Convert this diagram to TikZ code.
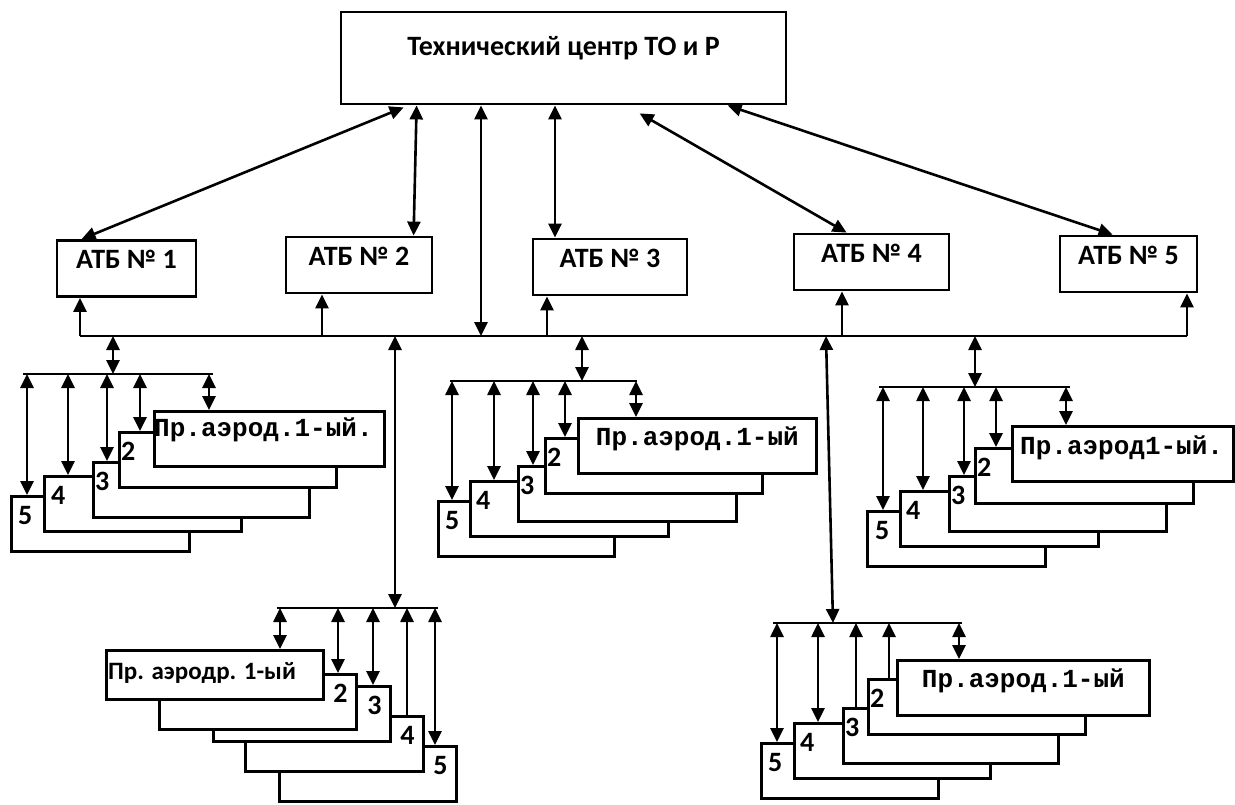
\documentclass[tikz,border=0pt]{standalone}
\usepackage{fontspec}
\setmainfont{Carlito}
\newfontfamily\monofam{Liberation Mono}
\usetikzlibrary{arrows.meta,calc}
\tikzset{
  vtop/.style={draw,line width=2.8pt,fill=white,font=\bfseries\fontsize{28}{32}\selectfont,text height=18pt,inner xsep=0pt},
  vatb/.style={vtop,inner ysep=10pt,text depth=18pt},
  vsheet/.style={draw,line width=2.8pt,fill=white,inner sep=0pt,anchor=north west,minimum height=55pt},
  vnum/.style={anchor=north west,inner sep=0pt,xshift=3pt,yshift=-11pt,font=\bfseries\fontsize{28}{32}\selectfont},
  vnumr/.style={anchor=north east,inner sep=0pt,xshift=-10pt,yshift=-11pt,font=\bfseries\fontsize{28}{32}\selectfont},
  vmono/.style={inner sep=0pt,font=\monofam\bfseries\fontsize{26}{30}\selectfont},
  vsans/.style={inner sep=0pt,font=\bfseries\fontsize{25}{29}\selectfont},
  varr/.style={-{Triangle[length=14pt,width=13pt]},line width=2.6pt},
  vdbl/.style={{Triangle[length=14pt,width=13pt]}-{Triangle[length=14pt,width=13pt]},line width=2.6pt},
  vline/.style={line width=2.6pt}
}
\begin{document}
\begin{tikzpicture}[x=1pt,y=-1pt]
  \useasboundingbox (0,0) rectangle (1235,804);
  % centre and the five bases
  \node[vtop,minimum width=445pt,inner ysep=25pt,text depth=24pt] (tc) at (563.5,58) {Технический центр ТО и Р};
  \node[vatb,minimum width=139pt] (a1) at (126.5,268.5) {АТБ № 1};
  \node[vatb,minimum width=146pt] (a2) at (359,265) {АТБ № 2};
  \node[vatb,minimum width=154pt] (a3) at (610,267) {АТБ № 3};
  \node[vatb,minimum width=155pt] (a4) at (871.5,262) {АТБ № 4};
  \node[vatb,minimum width=137pt] (a5) at (1128.5,264) {АТБ № 5};
  \draw[vdbl] ($(tc.south west)+(64,2)$) -- ($(a1.north west)+(26,0)$);
  \draw[vdbl] ($(tc.south west)+(77,0)$) -- ($(a2.north west)+(129,0)$);
  \draw[vdbl] (555,0 |- tc.south) -- (555,0 |- a3.north);
  \draw[vdbl] ($(tc.south west)+(300,8)$) -- ($(a4.north west)+(54,0)$);
  \draw[vdbl] ($(tc.south west)+(388,0)$) -- ($(a5.north west)+(54,0)$);
  % common line
  \coordinate (busL) at (80,336);
  \coordinate (busR) at (1187,336);
  \draw[vline] (busL) -- (busR);
  \draw[vdbl] (481,0 |- tc.south) -- (481,0 |- busL);
  \foreach \x/\n in {80/a1,322/a2,547/a3,842/a4,1187/a5}
    \draw[varr] (\x,0 |- busL) -- (\x,0 |- \n.south);
  \coordinate (bar1) at (23,374);
  \coordinate (bar2) at (450,381);
  \coordinate (bar3) at (879,387);
  \coordinate (bar4) at (277,608);
  \coordinate (bar5) at (773,623);
  \foreach \x/\g in {113/1,395/4,582/2,975/3}
    \draw[vdbl] (\x,0 |- busL) -- (\x,0 |- bar\g);
  \draw[vdbl] (826,0 |- busL) -- (833,0 |- bar5);
  % group 1
  \foreach \i/\x/\y/\w/\d in {5/10/495/178/5,4/43/475/197/5,3/92/461/216/0,2/118/431/217/0}
    \node[vsheet,minimum width=\w pt,label={[vnum,xshift=\d pt]north west:\i}] (g1s\i) at (\x,\y) {};
  \node[vsheet,minimum width=230pt,label={[vmono,anchor=north west,xshift=1pt,yshift=-8pt]north west:Пр.аэрод.1-ый.}] (g1s1) at (153,410) {};
  \draw[vline] (bar1) -- ++(190,0);
  \foreach \x/\i in {27/5,68/4,107/3,140/2,209/1}
    \draw[vdbl] (\x,0 |- bar1) -- (\x,0 |- g1s\i.north);
  % group 2
  \foreach \i/\x/\y/\w/\d in {5/437/500/176/5,4/469/480/198/4,3/517/465/218/0,2/544/437/217/0}
    \node[vsheet,minimum width=\w pt,label={[vnum,xshift=\d pt]north west:\i}] (g2s\i) at (\x,\y) {};
  \node[vsheet,minimum width=238pt,label={[vmono,anchor=north,yshift=-10pt]north:Пр.аэрод.1-ый}] (g2s1) at (577,417) {};
  \draw[vline] (bar2) -- ++(187,0);
  \foreach \x/\i in {452/5,494/4,533/3,565/2,636/1}
    \draw[vdbl] (\x,0 |- bar2) -- (\x,0 |- g2s\i.north);
  % group 3
  \foreach \i/\x/\y/\w/\d in {5/866/510/178/6,4/899/490/198/4,3/948/475/217/0,2/974/447/218/0}
    \node[vsheet,minimum width=\w pt,label={[vnum,xshift=\d pt]north west:\i}] (g3s\i) at (\x,\y) {};
  \node[vsheet,minimum width=221pt,label={[vmono,anchor=north west,xshift=9pt,yshift=-11pt]north west:Пр.аэрод1-ый.}] (g3s1) at (1011,425) {};
  \draw[vline] (bar3) -- ++(191,0);
  \foreach \x/\i in {883/5,923/4,964/3,996/2,1066/1}
    \draw[vdbl] (\x,0 |- bar3) -- (\x,0 |- g3s\i.north);
  % group 4
  \foreach \i/\x/\y/\w in {5/278/745/177,4/244/715/178,3/212/685/177,2/158/673/197}
    \node[vsheet,minimum width=\w pt,label={[vnumr]north east:\i}] (g4s\i) at (\x,\y) {};
  \node[vsheet,minimum width=217pt,minimum height=49pt,label={[vsans,anchor=north west,xshift=3pt,yshift=-13pt]north west:Пр. аэродр. 1-ый}] (g4s1) at (105,649) {};
  \draw[vline] (bar4) -- ++(161,0);
  \foreach \x/\i in {280/1,338/2,373/3,435/5}
    \draw[vdbl] (\x,0 |- bar4) -- (\x,0 |- g4s\i.north);
  \draw[varr] (407,0 |- g4s4.north) -- (407,0 |- bar4);
  % group 5
  \foreach \i/\x/\y/\w/\d in {5/760/742/177/5,4/793/722/196/4,3/842/707/215/0,2/867/678/217/0}
    \node[vsheet,minimum width=\w pt,label={[vnum,xshift=\d pt]north west:\i}] (g5s\i) at (\x,\y) {};
  \node[vsheet,minimum width=252pt,label={[vmono,anchor=north,yshift=-10pt]north:Пр.аэрод.1-ый}] (g5s1) at (896,659) {};
  \draw[vline] (bar5) -- ++(189,0);
  \foreach \x/\i in {777/5,818/4,959/1}
    \draw[vdbl] (\x,0 |- bar5) -- (\x,0 |- g5s\i.north);
  \foreach \x/\i in {856/3,889/2}
    \draw[varr] (\x,0 |- g5s\i.north) -- (\x,0 |- bar5);
\end{tikzpicture}
\end{document}
